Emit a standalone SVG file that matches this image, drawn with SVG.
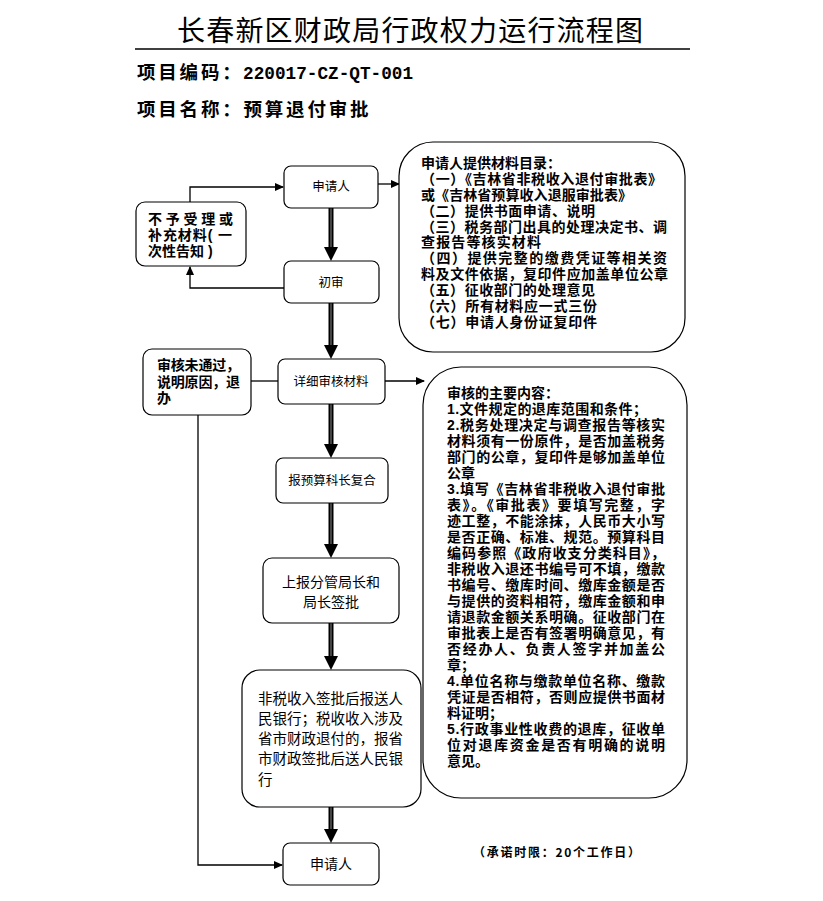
<svg xmlns="http://www.w3.org/2000/svg" width="823" height="901" viewBox="0 0 823 901">
<style>
.t{font-family:"Noto Sans CJK SC","Noto Sans",sans-serif;fill:#000}
.m{font-family:"Liberation Sans","Noto Sans CJK SC",sans-serif;fill:#000}
.b{font-weight:bold}
.n{fill:#fff;stroke:#000;stroke-width:1.2}
.thin{fill:none;stroke:#000;stroke-width:1.3}
.sh{stroke:#000;stroke-width:5;fill:none}
.sc{stroke:#888;stroke-width:1;fill:none}
</style>
<defs>
<marker id="a" markerWidth="9" markerHeight="8" refX="8" refY="4" orient="auto" markerUnits="userSpaceOnUse">
<path d="M0,0 L9,4 L0,8 z" fill="#000"/>
</marker>
</defs>
<rect width="823" height="901" fill="#fff"/>
<g id="header">
<text class="t" x="410" y="41" font-size="28" text-anchor="middle" textLength="466">长春新区财政局行政权力运行流程图</text>
<line x1="135" y1="49" x2="690" y2="49" stroke="#000" stroke-width="1.3"/>
<text class="t b" x="137" y="79" font-size="18.5" letter-spacing="2.8">项目编码：</text>
<text class="b" x="243" y="79" font-family="'Liberation Mono',monospace" font-size="17.7" textLength="170">220017-CZ-QT-001</text>
<text class="t b" x="137" y="116" font-size="18.5" letter-spacing="2.8">项目名称：预算退付审批</text>
</g>
<g id="connectors">
<path class="thin" d="M190 202 V187 H283" marker-end="url(#a)"/>
<path class="thin" d="M284 288 H190 V267" marker-end="url(#a)"/>
<path class="thin" d="M378 184 H399" marker-end="url(#a)"/>
<path class="thin" d="M251 381 H278"/>
<path class="thin" d="M385 381 H424" marker-end="url(#a)"/>
<path class="thin" d="M198 415 V865 H282" marker-end="url(#a)"/>
<g id="thick1"><line class="sh" x1="331" y1="208" x2="331" y2="250"/><line class="sc" x1="331" y1="208" x2="331" y2="250"/><polygon points="324,247 338,247 331,261" fill="#000"/></g>
<g id="thick2"><line class="sh" x1="331" y1="303" x2="331" y2="348"/><line class="sc" x1="331" y1="303" x2="331" y2="348"/><polygon points="324,345 338,345 331,359" fill="#000"/></g>
<g id="thick3"><line class="sh" x1="331" y1="404" x2="331" y2="447"/><line class="sc" x1="331" y1="404" x2="331" y2="447"/><polygon points="324,444 338,444 331,458" fill="#000"/></g>
<g id="thick4"><line class="sh" x1="331" y1="503" x2="331" y2="547"/><line class="sc" x1="331" y1="503" x2="331" y2="547"/><polygon points="324,544 338,544 331,558" fill="#000"/></g>
<g id="thick5"><line class="sh" x1="331" y1="623" x2="331" y2="659"/><line class="sc" x1="331" y1="623" x2="331" y2="659"/><polygon points="324,656 338,656 331,670" fill="#000"/></g>
<g id="thick6"><line class="sh" x1="331" y1="807" x2="331" y2="832"/><line class="sc" x1="331" y1="807" x2="331" y2="832"/><polygon points="324,829 338,829 331,843" fill="#000"/></g>
</g>
<g id="n-applicant1">
<rect class="n" x="284" y="166" width="94" height="42" rx="7"/>
<text class="t" x="331" y="191" font-size="12.5" text-anchor="middle">申请人</text>
</g>
<g id="n-reject1">
<rect class="n" x="136" y="202" width="110" height="64" rx="9"/>
<text class="m b" x="148" y="224" font-size="14" textLength="85">不予受理或</text>
<text class="m b" x="148" y="240" font-size="14" textLength="84">补充材料( 一</text>
<text class="m b" x="148" y="256" font-size="14">次性告知 )</text>
</g>
<g id="n-first">
<rect class="n" x="284" y="261" width="95" height="42" rx="7"/>
<text class="t" x="331" y="287" font-size="12.5" text-anchor="middle">初审</text>
</g>
<g id="n-materials">
<rect class="n" x="399" y="142" width="286" height="210" rx="34"/>
<text class="m b" font-size="14">
<tspan x="421" y="168">申请人提供材料目录：</tspan>
<tspan x="421" y="184" textLength="241">（一）《吉林省非税收入退付审批表》</tspan>
<tspan x="421" y="200" textLength="211">或《吉林省预算收入退服审批表》</tspan>
<tspan x="421" y="216" textLength="174">（二）提供书面申请、说明</tspan>
<tspan x="421" y="232" textLength="246">（三）税务部门出具的处理决定书、调</tspan>
<tspan x="421" y="247" textLength="120">查报告等核实材料</tspan>
<tspan x="421" y="263" textLength="246">（四）提供完整的缴费凭证等相关资</tspan>
<tspan x="421" y="279" textLength="247">料及文件依据，复印件应加盖单位公章</tspan>
<tspan x="421" y="295" textLength="174">（五）征收部门的处理意见</tspan>
<tspan x="421" y="311" textLength="176">（六）所有材料应一式三份</tspan>
<tspan x="421" y="327" textLength="176">（七）申请人身份证复印件</tspan>
</text>
</g>
<g id="n-reject2">
<rect class="n" x="143" y="349" width="108" height="66" rx="9"/>
<text class="m b" x="157" y="370" font-size="14" textLength="83">审核未通过，</text>
<text class="m b" x="157" y="387" font-size="14" textLength="83">说明原因，退</text>
<text class="m b" x="157" y="403" font-size="14">办</text>
</g>
<g id="n-detail">
<rect class="n" x="278" y="359" width="107" height="45" rx="7"/>
<text class="t" x="331" y="386" font-size="12.5" text-anchor="middle">详细审核材料</text>
</g>
<g id="n-review">
<rect class="n" x="423" y="367" width="264" height="431" rx="38"/>
<text class="m b" font-size="14">
<tspan x="447" y="398">审核的主要内容：</tspan>
<tspan x="447" y="414" textLength="200">1.文件规定的退库范围和条件；</tspan>
<tspan x="447" y="430" textLength="218">2.税务处理决定与调查报告等核实</tspan>
<tspan x="447" y="446" textLength="218">材料须有一份原件，是否加盖税务</tspan>
<tspan x="447" y="462" textLength="218">部门的公章，复印件是够加盖单位</tspan>
<tspan x="447" y="478">公章</tspan>
<tspan x="447" y="494" textLength="218">3.填写《吉林省非税收入退付审批</tspan>
<tspan x="447" y="510" textLength="218">表》。《审批表》要填写完整，字</tspan>
<tspan x="447" y="526" textLength="218">迹工整，不能涂抹，人民币大小写</tspan>
<tspan x="447" y="542" textLength="218">是否正确、标准、规范。预算科目</tspan>
<tspan x="447" y="558" textLength="218">编码参照《政府收支分类科目》，</tspan>
<tspan x="447" y="574" textLength="218">非税收入退还书编号可不填，缴款</tspan>
<tspan x="447" y="590" textLength="218">书编号、缴库时间、缴库金额是否</tspan>
<tspan x="447" y="606" textLength="218">与提供的资料相符，缴库金额和申</tspan>
<tspan x="447" y="622" textLength="218">请退款金额关系明确。征收部门在</tspan>
<tspan x="447" y="638" textLength="218">审批表上是否有签署明确意见，有</tspan>
<tspan x="447" y="654" textLength="218">否经办人、负责人签字并加盖公</tspan>
<tspan x="447" y="670">章；</tspan>
<tspan x="447" y="686" textLength="218">4.单位名称与缴款单位名称、缴款</tspan>
<tspan x="447" y="702" textLength="218">凭证是否相符，否则应提供书面材</tspan>
<tspan x="447" y="718">料证明；</tspan>
<tspan x="447" y="734" textLength="218">5.行政事业性收费的退库，征收单</tspan>
<tspan x="447" y="750" textLength="218">位对退库资金是否有明确的说明</tspan>
<tspan x="447" y="766">意见。</tspan>
</text>
</g>
<g id="n-chief">
<rect class="n" x="276" y="458" width="112" height="45" rx="7"/>
<text class="t" x="332" y="485" font-size="12.5" text-anchor="middle">报预算科长复合</text>
</g>
<g id="n-director">
<rect class="n" x="263" y="558" width="136" height="65" rx="9"/>
<text class="t" x="331" y="587" font-size="14" text-anchor="middle">上报分管局长和</text>
<text class="t" x="331" y="607" font-size="14" text-anchor="middle">局长签批</text>
</g>
<g id="n-bank">
<rect class="n" x="242" y="670" width="179" height="137" rx="18"/>
<text class="t" font-size="14.5">
<tspan x="258" y="704">非税收入签批后报送人</tspan>
<tspan x="258" y="724">民银行；税收收入涉及</tspan>
<tspan x="258" y="744">省市财政退付的，报省</tspan>
<tspan x="258" y="764">市财政签批后送人民银</tspan>
<tspan x="258" y="785">行</tspan>
</text>
</g>
<g id="n-applicant2">
<rect class="n" x="283" y="843" width="96" height="42" rx="7"/>
<text class="t" x="331" y="869" font-size="14" text-anchor="middle">申请人</text>
</g>
<g id="note">
<text class="t b" x="473" y="857" font-size="12" textLength="167">（承诺时限：20个工作日）</text>
</g>
</svg>
